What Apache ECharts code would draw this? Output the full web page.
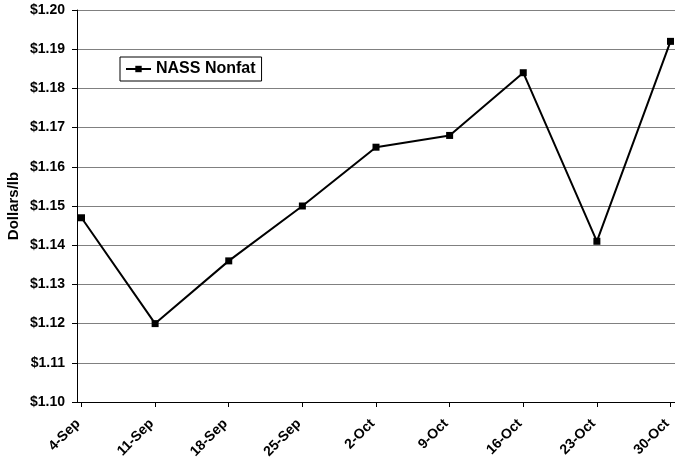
<!DOCTYPE html>
<html>
<head>
<meta charset="utf-8">
<script src="https://cdn.jsdelivr.net/npm/echarts@6/dist/echarts.min.js"></script>
<style>html,body{margin:0;padding:0;background:#fff}#c{width:675px;height:458px}</style>
</head>
<body>
<div id="c"></div>
<script>
var categories = ['4-Sep','11-Sep','18-Sep','25-Sep','2-Oct','9-Oct','16-Oct','23-Oct','30-Oct'];
var nassNonfat = [1.147, 1.120, 1.136, 1.150, 1.165, 1.168, 1.184, 1.141, 1.192];
var seriesName = 'NASS Nonfat';
var yTitle = 'Dollars/lb';

var idx = categories.map(function (c, i) { return i; });
var seriesData = nassNonfat.map(function (v, i) { return [i, v]; });

var chart = echarts.init(document.getElementById('c'), null, {renderer: 'canvas'});
var font = '"Liberation Sans", Arial, sans-serif';
chart.setOption({
  animation: false,
  backgroundColor: '#fff',
  grid: {left: 77, right: 0, top: 10, bottom: 56, containLabel: false, outerBoundsMode: 'none'},
  legend: {
    left: 120, top: 57,
    data: [seriesName],
    borderColor: '#000', borderWidth: 1,
    padding: [4, 6, 4, 5],
    itemWidth: 25, itemHeight: 8,
    textStyle: {fontFamily: font, fontWeight: 'bold', fontSize: 16, color: '#000'}
  },
  xAxis: {
    type: 'value',
    min: -0.061, max: 8.061,
    axisLine: {onZero: false, lineStyle: {color: '#000', width: 1}},
    axisTick: {show: true, inside: false, length: 5, customValues: idx, lineStyle: {color: '#000'}},
    axisLabel: {
      rotate: 45, fontFamily: font, fontWeight: 'bold', fontSize: 14, color: '#000', margin: 16,
      padding: [0, 5, 0, 0],
      customValues: idx,
      formatter: function (v) { return categories[Math.round(v)]; }
    },
    splitLine: {show: false}
  },
  yAxis: {
    type: 'value',
    min: 1.10, max: 1.20, interval: 0.01,
    name: yTitle,
    nameLocation: 'middle',
    nameGap: 56,
    nameMoveOverlap: false,
    nameRotate: 90,
    nameTextStyle: {fontFamily: font, fontWeight: 'bold', fontSize: 15, color: '#000'},
    axisLine: {show: true, onZero: false, lineStyle: {color: '#000', width: 1}},
    axisTick: {show: true, length: 5, lineStyle: {color: '#000'}},
    axisLabel: {
      fontFamily: font, fontWeight: 'bold', fontSize: 14, color: '#000', margin: 12,
      formatter: function (v) { return '$' + v.toFixed(2); }
    },
    splitLine: {show: true, lineStyle: {color: '#808080', width: 1}}
  },
  series: [{
    name: seriesName,
    type: 'line',
    data: seriesData,
    symbol: 'rect',
    symbolSize: 7,
    lineStyle: {color: '#000', width: 2},
    itemStyle: {color: '#000'}
  }]
});
</script>
</body>
</html>
